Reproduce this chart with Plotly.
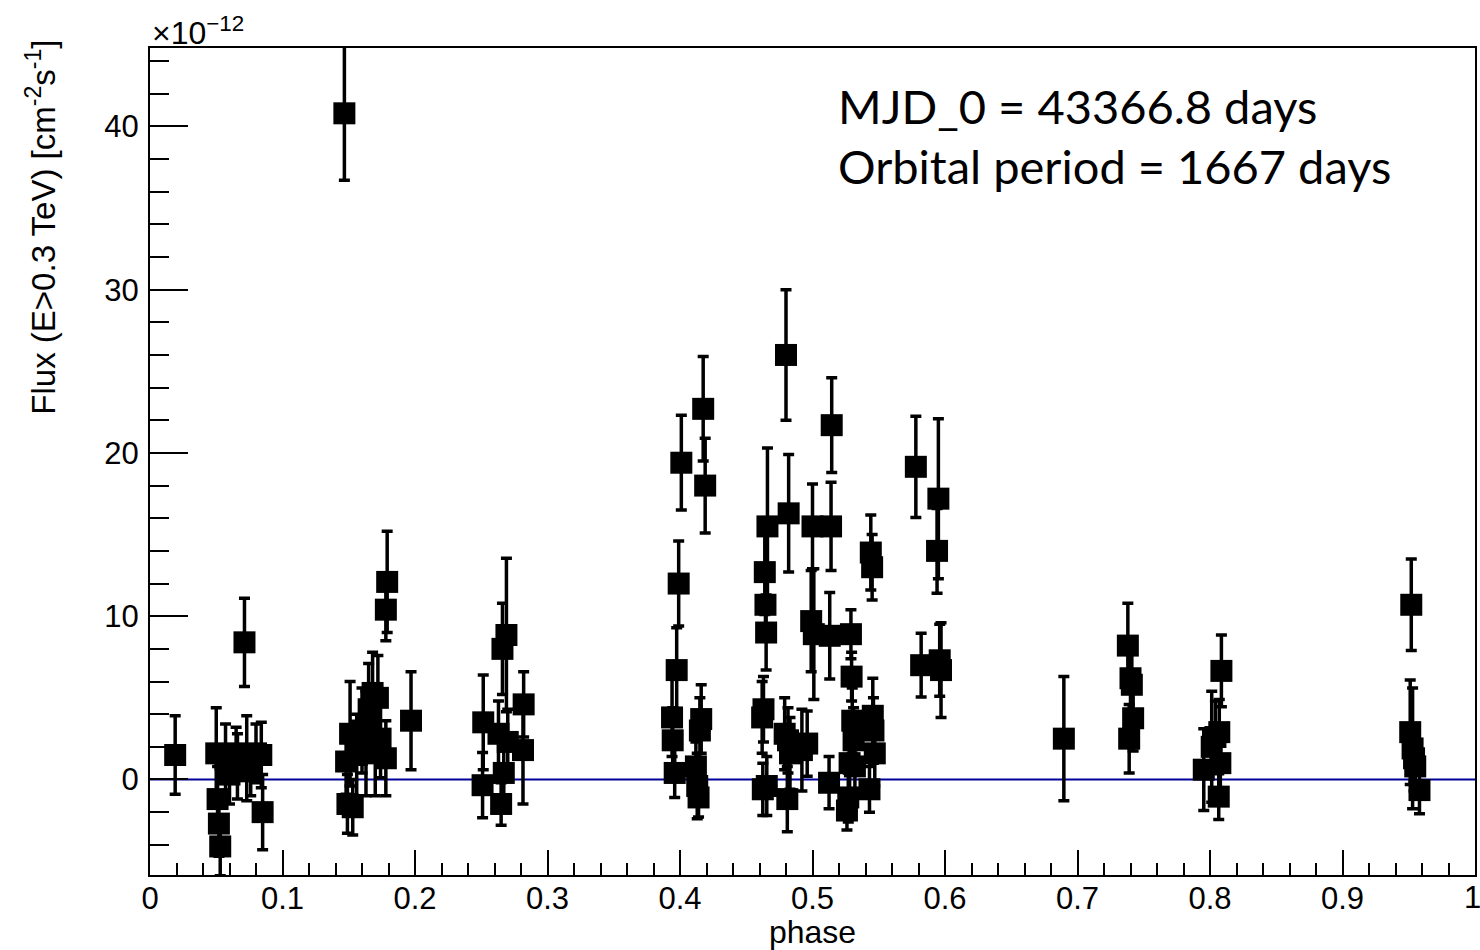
import plotly.graph_objects as go

# Flux values in units of 1e-12 cm^-2 s^-1
phase = [
    0.0190,
    0.0500, 0.0510, 0.0520, 0.0530, 0.0570, 0.0600, 0.0650, 0.0660, 0.0713, 0.0730, 0.0760, 0.0800, 0.0840, 0.0850,
    0.1467, 0.1480, 0.1490, 0.1510, 0.1530, 0.1560, 0.1600, 0.1630, 0.1650, 0.1680, 0.1700, 0.1720, 0.1740, 0.1780,
    0.1790, 0.1780, 0.1970,
    0.2515, 0.2510, 0.2630, 0.2650, 0.2660, 0.2670, 0.2690, 0.2700, 0.2820, 0.2815,
    0.3940, 0.3945, 0.3960, 0.3975, 0.3990, 0.4010, 0.4120, 0.4130, 0.4140, 0.4150, 0.4160, 0.4175, 0.4190,
    0.4620, 0.4625, 0.4630, 0.4640, 0.4645, 0.4650, 0.4655, 0.4660,
    0.4790, 0.4800, 0.4810, 0.4815, 0.4820, 0.4830, 0.4920, 0.4960, 0.4990, 0.5000, 0.5010,
    0.5125, 0.5130, 0.5140, 0.5145,
    0.5260, 0.5270, 0.5280, 0.5290, 0.5295, 0.5300, 0.5310, 0.5320,
    0.5430, 0.5440, 0.5450, 0.5455, 0.5460, 0.5470,
    0.5780, 0.5820, 0.5940, 0.5950, 0.5960, 0.5970,
    0.6897,
    0.7380, 0.7390, 0.7400, 0.7410, 0.7420,
    0.7953, 0.8013, 0.8041, 0.8066, 0.8078, 0.8070, 0.8086,
    0.9519, 0.9511, 0.9529, 0.9540, 0.9549, 0.9581,
]
flux = [
    1.5,
    1.6, -1.2, -2.7, -4.1, 1.2, 0.3, 1.6, 0.8, 8.4, 1.3, 0.5, 1.6, 1.5, -2.0,
    40.8, 1.1, -1.5, 2.8, -1.7, 1.5, 3.0, 2.2, 4.3, 5.3, 1.6, 5.0, 2.5, 1.3,
    12.1, 10.4, 3.6,
    3.5, -0.35, 2.8, -1.5, 8.0, 0.4, 8.85, 2.3, 4.6, 1.8,
    3.8, 2.4, 0.4, 6.7, 12.0, 19.4, 0.8, -0.4, -1.1, 3.0, 3.7, 22.7, 18.0,
    3.8, -0.6, 4.3, 12.7, 10.7, 9.0, -0.4, 15.5,
    2.8, 26.0, -1.2, 2.4, 16.3, 1.6, 1.8, 2.2, 9.7, 15.5, 8.9,
    -0.2, 8.8, 15.5, 21.7,
    -1.9, -1.1, 1.0, 8.9, 6.3, 3.6, 2.4, 0.8,
    -0.6, 13.9, 13.0, 3.9, 3.0, 1.6,
    19.15, 7.0, 14.0, 17.2, 7.3, 6.7,
    2.5,
    8.2, 2.5, 6.2, 5.8, 3.75,
    0.6, 2.0, 2.6, -1.05, 1.0, 2.9, 6.65,
    10.7, 2.9, 1.9, 1.3, 0.8, -0.65,
]
flux_err = [
    2.4,
    2.8, 2.0, 2.0, 1.8, 2.2, 1.8, 1.6, 2.0, 2.7, 2.6, 1.5, 1.8, 2.0, 2.3,
    4.1, 2.0, 1.8, 3.2, 1.7, 2.5, 2.6, 3.2, 2.8, 2.5, 2.6, 2.6, 2.4, 2.3,
    3.1, 1.9, 3.0,
    2.9, 2.0, 2.0, 1.3, 2.8, 2.0, 4.7, 2.0, 2.0, 3.3,
    2.4, 2.0, 1.5, 2.6, 2.6, 2.9, 1.5, 2.0, 1.2, 2.0, 2.1, 3.2, 2.9,
    2.2, 1.6, 2.0, 2.6, 2.0, 2.3, 1.8, 4.8,
    2.2, 4.0, 2.0, 2.0, 3.6, 2.2, 2.5, 2.0, 3.1, 2.6, 4.0,
    1.6, 2.65, 2.7, 2.9,
    1.2, 1.5, 2.0, 1.5, 1.5, 2.0, 2.0, 1.7,
    1.4, 2.3, 2.0, 2.3, 2.0, 2.0,
    3.1, 1.95, 2.6, 4.9, 2.2, 2.9,
    3.8,
    2.6, 2.1, 2.2, 2.2, 2.0,
    2.5, 3.4, 2.2, 1.4, 2.0, 2.0, 2.2,
    2.8, 3.2, 3.7, 2.0, 2.0, 1.45,
]

x_range = [0, 1]
y_range = [-5.85, 44.8]
x_ticks = [0, 0.1, 0.2, 0.3, 0.4, 0.5, 0.6, 0.7, 0.8, 0.9]
x_ticklabels = ["0", "0.1", "0.2", "0.3", "0.4", "0.5", "0.6", "0.7", "0.8", "0.9"]
x_last_tick = 1
x_last_label = "1"
y_ticks = [0, 10, 20, 30, 40]
y_ticklabels = ["0", "10", "20", "30", "40"]
info_lines = ["MJD_0 = 43366.8 days", "Orbital period = 1667 days"]

FONT = "Liberation Sans, Arial, Helvetica, sans-serif"
TICK_SIZE = 31

fig = go.Figure()
fig.add_trace(go.Scatter(
    x=phase, y=flux,
    mode="markers",
    marker=dict(symbol="square", size=22, color="black", line=dict(width=0)),
    error_y=dict(type="data", array=flux_err, visible=True, color="black",
                 thickness=3.5, width=5.5),
    showlegend=False,
    cliponaxis=True,
))

fig.add_shape(type="line", xref="x", yref="y", x0=x_range[0], x1=x_range[1], y0=0, y1=0,
              line=dict(color="#000099", width=2), layer="below")

fig.update_layout(
    width=1480, height=950,
    margin=dict(l=150, r=3, t=48, b=75),
    paper_bgcolor="white", plot_bgcolor="white",
    font=dict(family=FONT, color="black", size=TICK_SIZE),
    xaxis=dict(
        range=x_range, tickvals=x_ticks + [x_last_tick], ticktext=x_ticklabels + [""],
        ticks="inside", ticklen=25, tickwidth=2, tickcolor="black",
        minor=dict(dtick=0.02, ticks="inside", ticklen=12, tickwidth=2, tickcolor="black"),
        showline=True, linecolor="black", linewidth=2, mirror=True,
        showgrid=False, zeroline=False,
        tickfont=dict(size=TICK_SIZE, family=FONT),
        ticklabelstandoff=-5,
        title=dict(text="phase", font=dict(size=32, family=FONT), standoff=0),
    ),
    yaxis=dict(
        range=y_range, tickvals=y_ticks, ticktext=y_ticklabels,
        ticks="inside", ticklen=38, tickwidth=2, tickcolor="black",
        minor=dict(dtick=2, ticks="inside", ticklen=19, tickwidth=2, tickcolor="black"),
        showline=True, linecolor="black", linewidth=2, mirror=True,
        showgrid=False, zeroline=False,
        tickfont=dict(size=TICK_SIZE, family=FONT),
        ticklabelstandoff=3,
    ),
)

# last x tick label at the right edge
fig.add_annotation(
    text=x_last_label, xref="x", yref="paper", x=x_last_tick, y=0,
    xanchor="right", yanchor="top", xshift=8, yshift=-3, showarrow=False,
    font=dict(size=TICK_SIZE, family=FONT, color="black"),
)
# y-axis title aligned to the top of the axis (ROOT style)
fig.add_annotation(
    text="Flux (E>0.3 TeV) [cm<sup>-2</sup>s<sup>-1</sup>]",
    xref="paper", yref="paper", x=(40 - 150) / 1327, y=(875 - 38) / 827,
    xanchor="center", yanchor="top", textangle=-90, showarrow=False,
    font=dict(size=33, family=FONT, color="black"),
)
# exponent label
fig.add_annotation(
    text="×10<sup>−12</sup>",
    xref="paper", yref="paper", x=0, y=1.0, xanchor="left", yanchor="bottom",
    showarrow=False, font=dict(size=32, family=FONT, color="black"), yshift=-5,
)
# info text
for i, line in enumerate(info_lines):
    fig.add_annotation(
        text=line, xref="paper", yref="paper",
        x=(837 - 150) / 1327, y=(875 - (125 + 60 * i)) / 827,
        xanchor="left", yanchor="bottom", yshift=-11, showarrow=False,
        font=dict(size=47, family="Lato, Noto Sans, sans-serif", color="black"),
    )

fig.write_html("out.html")
